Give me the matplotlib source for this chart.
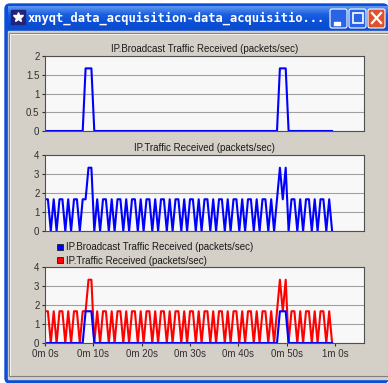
import matplotlib.pyplot as plt
from matplotlib.patches import Rectangle, FancyBboxPatch
import numpy as np

# OPNET bucket statistics, one value every 0.6 s (100 buckets over the run)
sample_interval = 0.6

broadcast = [0, 0, 0, 0, 0, 0, 0, 0, 0, 0,
             0, 0, 0, 0, 1.67, 1.67, 1.67, 0, 0, 0,
             0, 0, 0, 0, 0, 0, 0, 0, 0, 0,
             0, 0, 0, 0, 0, 0, 0, 0, 0, 0,
             0, 0, 0, 0, 0, 0, 0, 0, 0, 0,
             0, 0, 0, 0, 0, 0, 0, 0, 0, 0,
             0, 0, 0, 0, 0, 0, 0, 0, 0, 0,
             0, 0, 0, 0, 0, 0, 0, 0, 0, 0,
             0, 1.67, 1.67, 1.67, 0, 0, 0, 0, 0, 0,
             0, 0, 0, 0, 0, 0, 0, 0, 0, 0]

traffic = [1.67, 1.67, 0, 1.67, 0, 1.67, 1.67, 0, 1.67, 0,
           1.67, 1.67, 0, 1.67, 1.67, 3.33, 3.33, 0, 1.67, 0,
           1.67, 1.67, 0, 1.67, 0, 1.67, 1.67, 0, 1.67, 0,
           1.67, 1.67, 0, 1.67, 0, 1.67, 1.67, 0, 1.67, 0,
           1.67, 1.67, 0, 1.67, 0, 1.67, 1.67, 0, 1.67, 0,
           1.67, 1.67, 0, 1.67, 0, 1.67, 1.67, 0, 1.67, 0,
           1.67, 1.67, 0, 1.67, 0, 1.67, 1.67, 0, 1.67, 0,
           1.67, 1.67, 0, 1.67, 0, 1.67, 1.67, 0, 1.67, 0,
           1.67, 3.33, 1.67, 3.33, 0, 1.67, 1.67, 0, 1.67, 0,
           1.67, 1.67, 0, 1.67, 0, 1.67, 1.67, 0, 1.67, 0]

x_ticks = [0, 10, 20, 30, 40, 50, 60]
x_labels = ["0m 0s", "0m 10s", "0m 20s", "0m 30s", "0m 40s", "0m 50s", "1m 0s"]
title_top = "IP.Broadcast Traffic Received (packets/sec)"
title_mid = "IP.Traffic Received (packets/sec)"
window_title = "xnyqt_data_acquisition-data_acquisitio..."

W, H = 388, 383
GRAY = "#d4d0c8"
BLUE = "#0000ff"
RED = "#ff0000"
TXT = "#1a1a1a"
FONT = "Liberation Sans"
FS = 7.0

fig = plt.figure(figsize=(W / 100, H / 100), dpi=100)
fig.patch.set_facecolor("white")

# window chrome drawn in pixel coordinates
bg = fig.add_axes([0, 0, 1, 1])
bg.set_xlim(0, W)
bg.set_ylim(H, 0)
bg.axis("off")

bg.add_patch(FancyBboxPatch((5, 4), W - 5, H - 4,
                            boxstyle="round,pad=0,rounding_size=5",
                            color="#0b4fd8"))
grad = np.linspace(0, 1, 30).reshape(-1, 1)
bg.imshow(grad, cmap=plt.matplotlib.colors.LinearSegmentedColormap.from_list(
    "xp", ["#5d95f2", "#1a5fe0", "#0a4fd6", "#0d4ccc"]),
    extent=(8, W, 31, 6), aspect="auto", zorder=1)
bg.add_patch(Rectangle((8, 31), W - 8, 348, color=GRAY, zorder=2))
bg.add_patch(Rectangle((9, 33), W - 9, 343, facecolor=GRAY,
                       edgecolor="#808080", lw=0.8, zorder=2))
bg.plot([10, W], [34, 34], color="#f2f0ea", lw=0.8, zorder=2)
bg.plot([10, 10], [34, 375], color="#f2f0ea", lw=0.8, zorder=2)

# icon and caption
bg.add_patch(Rectangle((11, 10), 14, 14, color="#23237a", zorder=3))
bg.plot([18], [17], marker="*", color="white", markersize=7, zorder=4)
bg.text(28, 18, window_title, color="white", fontsize=8.7, fontweight="bold",
        family="DejaVu Sans Mono", va="center", ha="left", zorder=4)

# caption buttons
for bx, fc in [(330, "#2a64e6"), (349, "#2a64e6"), (368, "#e0502a")]:
    bg.add_patch(FancyBboxPatch((bx, 9), 17, 19,
                                boxstyle="round,pad=0,rounding_size=2",
                                facecolor=fc, edgecolor="white",
                                lw=0.8, zorder=3))
bg.add_patch(Rectangle((334, 22), 6, 2.5, color="white", zorder=4))
bg.add_patch(Rectangle((353, 13), 10, 10, facecolor="none", edgecolor="white",
                       lw=1.2, zorder=4))
bg.plot([372, 381], [13, 23], color="white", lw=1.6, zorder=4)
bg.plot([372, 381], [23, 13], color="white", lw=1.6, zorder=4)

# legend of the bottom panel
bg.add_patch(Rectangle((57, 244), 6, 6, facecolor=BLUE, edgecolor="#202020",
                       lw=0.6, zorder=3))
bg.add_patch(Rectangle((57, 257), 6, 6, facecolor=RED, edgecolor="#202020",
                       lw=0.6, zorder=3))
bg.text(66, 247.5, title_top, fontsize=FS, family=FONT, color=TXT,
        va="center", ha="left", zorder=4)
bg.text(66, 260.5, title_mid, fontsize=FS, family=FONT, color=TXT,
        va="center", ha="left", zorder=4)


def panel(x0, y0, x1, y1, ymax, yticks, ylabels, title=None, xlabels=False):
    ax = fig.add_axes([x0 / W, 1 - y1 / H, (x1 - x0) / W, (y1 - y0) / H])
    ax.set_facecolor("#f8f8f8")
    ax.set_xlim(0, 66)
    ax.set_ylim(0, ymax)
    ax.set_yticks(yticks)
    ax.set_yticklabels(ylabels, fontsize=FS, family=FONT, color=TXT)
    ax.grid(axis="y", color="#a0a0a0", lw=0.8)
    ax.set_axisbelow(True)
    for s in ax.spines.values():
        s.set_color("#505050")
        s.set_linewidth(0.8)
    ax.tick_params(axis="y", length=2.5, width=0.8, pad=1.5, colors="#303030")
    if xlabels:
        ax.set_xticks(x_ticks)
        ax.set_xticklabels(x_labels, fontsize=FS, family=FONT, color=TXT)
        ax.tick_params(axis="x", length=2.5, width=0.8, pad=2, colors="#303030")
    else:
        ax.set_xticks([])
    if title:
        ax.set_title(title, fontsize=FS, family=FONT, color=TXT, pad=3)
    return ax


t = np.arange(len(traffic)) * sample_interval

ax1 = panel(45, 56, 364, 131, 2, [0, 0.5, 1, 1.5, 2],
            ["0", "0.5", "1", "1.5", "2"], title=title_top)
ax1.plot(t, broadcast, color=BLUE, lw=1.5)

ax2 = panel(45, 155, 364, 231, 4, [0, 1, 2, 3, 4],
            ["0", "1", "2", "3", "4"], title=title_mid)
ax2.plot(t, traffic, color=BLUE, lw=1.5)

ax3 = panel(45, 267, 364, 343, 4, [0, 1, 2, 3, 4],
            ["0", "1", "2", "3", "4"], xlabels=True)
ax3.plot(t, traffic, color=RED, lw=1.5)
ax3.plot(t, broadcast, color=BLUE, lw=1.5)

fig.savefig("out.png", dpi=100)
